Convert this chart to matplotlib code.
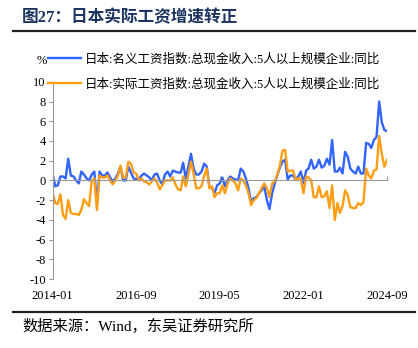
import pandas as pd
import matplotlib
matplotlib.use('Agg')
import matplotlib.pyplot as plt

plt.rcParams['font.family'] = ['Liberation Serif', 'Noto Sans CJK SC']
plt.rcParams['axes.unicode_minus'] = False

dates = pd.date_range('2014-01-01', periods=129, freq='MS')

# 日本:名义工资指数:总现金收入:5人以上规模企业:同比
nominal = [
    0.6, -0.6, -0.5, 0.4, 0.4, 0.2, 2.2, 0.5, 0.4, 0.0, -0.3, 0.9,
    0.6, 0.2, 0.0, 0.6, 0.9, -2.4, 0.9, 0.5, 0.5, 0.8, 0.3, -0.1,
    0.2, 0.7, 1.4, 0.0, 0.0, 1.4, 0.8, 0.2, 0.1, 0.1, 0.5, 0.7,
    0.5, 0.3, 0.0, 0.6, 0.7, 0.0, -0.4, 0.6, 0.9, 0.4, 1.0, 0.9,
    0.8, 0.8, 1.8, 0.2, 1.4, 2.7, 1.2, 0.6, 0.6, 0.9, 1.7, 1.4,
    -0.6, -0.8, -1.3, -0.5, -0.3, 0.3, -0.6, 0.0, 0.4, 0.2, 0.1, 0.0,
    1.2, 0.9, 0.2, -0.8, -2.2, -1.8, -1.7, -1.3, -1.0, -0.6, -2.0, -2.9,
    -1.3, -0.3, 0.5, 1.3, 1.9, 2.1, 0.1, 0.5, 0.5, 0.1, 0.4, 0.9,
    -0.3, 1.0, 1.2, 2.1, 1.2, 1.4, 2.1, 1.3, 1.5, 2.2, 1.6, 4.1,
    0.9, 0.9, 1.3, 0.7, 2.9, 2.4, 1.2, 0.9, 0.7, 1.4, 0.7, 0.7,
    3.8, 3.7, 3.3, 4.1, 4.4, 8.0, 5.9, 5.1, 5.0,
]

# 日本:实际工资指数:总现金收入:5人以上规模企业:同比
real = [
    -1.3, -2.3, -2.4, -1.4, -3.5, -3.9, -2.0, -3.3, -3.4, -3.4, -3.5, -3.0,
    -1.9, -2.3, -2.6, 0.0, 0.2, -3.0, 0.5, 0.3, 0.3, 0.5, 0.0, -0.4,
    0.0, 0.5, 1.5, 0.3, 0.3, 1.9, 1.7, 0.8, 0.7, 0.0, 0.2, -0.1,
    -0.2, -0.4, -0.1, 0.2, -0.2, -0.9, -0.5, 0.0, 0.0, 0.0, 0.3, -0.4,
    -0.9, -1.0, 0.4, -0.6, 0.6, 1.9, 0.7, -0.8, -0.8, -0.6, 0.5, 1.2,
    -0.8, -0.6, -1.7, -1.3, -1.3, -0.5, -1.3, -0.3, 0.2, 0.0, -0.3, -1.0,
    0.2, 0.0, -0.5, -1.3, -2.5, -2.0, -1.8, -1.3, -0.8, -0.3, -0.8, -1.7,
    -0.3, -0.1, 0.6, 1.5, 3.0, 3.1, 0.9, 1.0, 1.0, 0.1, 0.2, 0.2,
    -1.3, 0.4, 0.3, 0.0, -1.7, -1.7, -0.6, -1.7, -1.6, -1.1, -2.8, -0.5,
    -4.0, -2.3, -3.3, -2.6, -1.0, -1.5, -2.7, -2.8, -2.8, -2.3, -2.5, -2.2,
    1.2, 0.5, 0.2, 1.0, 1.1, 4.5, 2.7, 1.4, 2.1,
]

labels = ['日本:名义工资指数:总现金收入:5人以上规模企业:同比',
          '日本:实际工资指数:总现金收入:5人以上规模企业:同比']
tick_dates = pd.to_datetime(['2014-01-01', '2016-09-01', '2019-05-01',
                             '2022-01-01', '2024-09-01'])

fig = plt.figure(figsize=(4.18, 3.48), dpi=100)
ax = fig.add_axes([0.126, 0.198, 0.800, 0.567])

l1, = ax.plot(dates, nominal, color='#3264FF', lw=1.7, label=labels[0])
l2, = ax.plot(dates, real, color='#FF9E12', lw=1.7, label=labels[1])

ax.set_xlim(dates[0], dates[-1])
ax.set_ylim(-10, 10)
ax.set_yticks(range(-10, 11, 2))
ax.tick_params(axis='y', labelsize=9, length=3, color='#999999', pad=2)

for s in ['top', 'right']:
    ax.spines[s].set_visible(False)
ax.spines['left'].set_color('#999999')
ax.spines['bottom'].set_position(('data', 0))
ax.spines['bottom'].set_color('#999999')
ax.set_xticks(tick_dates)
ax.tick_params(axis='x', direction='in', length=3, color='#999999', labelbottom=False)

sec = ax.secondary_xaxis('bottom')
sec.set_xticks(tick_dates)
sec.set_xticklabels([d.strftime('%Y-%m') for d in tick_dates])
sec.tick_params(length=0, labelsize=9, pad=8)
sec.spines['bottom'].set_visible(False)

fig.text(42 / 418, 1 - 61 / 348, '%', fontsize=9, ha='center', va='center')

fig.legend(handles=[l1, l2], loc='upper left', bbox_to_anchor=(48 / 418, 1 - 53 / 348),
           frameon=False, fontsize=9, handlelength=2.6, handletextpad=0.35,
           borderpad=0, borderaxespad=0, labelspacing=1.0)

fig.text(22 / 418, 1 - 18 / 348, '图27：日本实际工资增速转正', fontsize=12,
         fontweight='bold', color='#1B3460', ha='left', va='center')
fig.add_artist(plt.Line2D([13 / 418, 415 / 418], [1 - 31 / 348] * 2, color='#222222', lw=1.6))
fig.add_artist(plt.Line2D([13 / 418, 415 / 418], [1 - 312 / 348] * 2, color='#222222', lw=1.6))
fig.text(22 / 418, 1 - 326 / 348, '数据来源：Wind，东吴证券研究所', fontsize=11,
         ha='left', va='center')

fig.savefig('out.png', dpi=100)
